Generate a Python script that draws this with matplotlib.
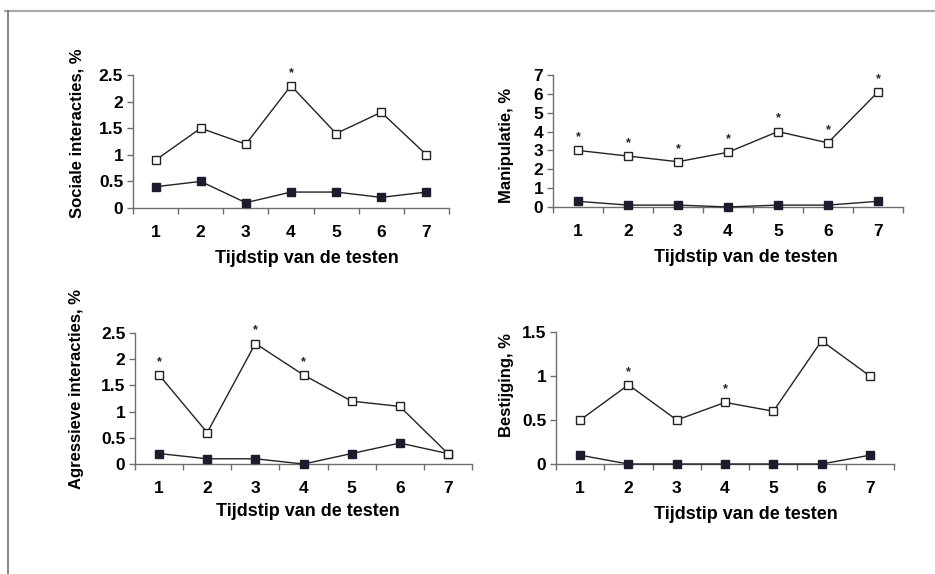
import matplotlib.pyplot as plt
from matplotlib.lines import Line2D

plt.rcParams['font.family'] = ['Liberation Sans', 'DejaVu Sans']
plt.rcParams['font.weight'] = 'bold'

# Tijdstip van de testen
tijdstip = [1, 2, 3, 4, 5, 6, 7]

# Sociale interacties
sociaal_open = [0.9, 1.5, 1.2, 2.3, 1.4, 1.8, 1.0]
sociaal_dicht = [0.4, 0.5, 0.1, 0.3, 0.3, 0.2, 0.3]
sociaal_ster = [4]

# Manipulatie
manip_open = [3.0, 2.7, 2.4, 2.9, 4.0, 3.4, 6.1]
manip_dicht = [0.3, 0.1, 0.1, 0.0, 0.1, 0.1, 0.3]
manip_ster = [1, 2, 3, 4, 5, 6, 7]

# Agressieve interacties
agressie_open = [1.7, 0.6, 2.3, 1.7, 1.2, 1.1, 0.2]
agressie_dicht = [0.2, 0.1, 0.1, 0.0, 0.2, 0.4, 0.2]
agressie_ster = [1, 3, 4]

# Bestijging
bestijging_open = [0.5, 0.9, 0.5, 0.7, 0.6, 1.4, 1.0]
bestijging_dicht = [0.1, 0.0, 0.0, 0.0, 0.0, 0.0, 0.1]
bestijging_ster = [2, 4]

panels = [
    # ylabel, open, dicht, sterren, yticks, ticklabels, axes rect, xlabel pos, ylabel pos
    ('Sociale interacties, %', sociaal_open, sociaal_dicht, sociaal_ster,
     [0, 0.5, 1, 1.5, 2, 2.5], ['0', '0.5', '1', '1.5', '2', '2.5'],
     [0.1422, 0.6376, 0.338, 0.2317], (0.55, -0.315), 133),
    ('Manipulatie, %', manip_open, manip_dicht, manip_ster,
     [0, 1, 2, 3, 4, 5, 6, 7], ['0', '1', '2', '3', '4', '5', '6', '7'],
     [0.5914, 0.6394, 0.3743, 0.2300], (0.551, -0.32), 145),
    ('Agressieve interacties, %', agressie_open, agressie_dicht, agressie_ster,
     [0, 0.5, 1, 1.5, 2, 2.5], ['0', '0.5', '1', '1.5', '2', '2.5'],
     [0.1444, 0.1916, 0.3604, 0.2282], (0.513, -0.30), 389),
    ('Bestijging, %', bestijging_open, bestijging_dicht, bestijging_ster,
     [0, 0.5, 1, 1.5], ['0', '0.5', '1', '1.5'],
     [0.5947, 0.1916, 0.3615, 0.2300], (0.562, -0.32), 385),
]

ylabel_x = [77, 507, 77, 507]

fig = plt.figure(figsize=(9.35, 5.74), dpi=100)

# rand van de afbeelding
fig.add_artist(Line2D([5 / 935, 1], [1 - 11 / 574, 1 - 11 / 574],
                      transform=fig.transFigure, color='#a8a8a8', lw=1.6))
fig.add_artist(Line2D([8 / 935, 8 / 935], [0, 1 - 11 / 574],
                      transform=fig.transFigure, color='#6e6e6e', lw=1.2))

for i, (ylab, v_open, v_dicht, sterren, yticks, ylabels, rect, xl_pos, yl_pix) in enumerate(panels):
    ax = fig.add_axes(rect)
    ax.plot(tijdstip, v_dicht, color='#222222', lw=1.0, marker='s',
            markersize=5.5, markerfacecolor='#1c1c2e', markeredgecolor='#1c1c2e',
            clip_on=False, zorder=3)
    ax.plot(tijdstip, v_open, color='#222222', lw=1.0, marker='s',
            markersize=6, markerfacecolor='white', markeredgecolor='#222222',
            clip_on=False, zorder=4)
    for s in sterren:
        ax.annotate('*', (s, v_open[s - 1]), xytext=(0, 5), textcoords='offset points',
                    ha='center', va='bottom', fontsize=9, color='#222222')

    ax.set_xlim(0.5, 7.5)
    ax.set_ylim(0, yticks[-1])
    ax.set_xticks([x + 0.5 for x in range(0, 8)])
    ax.set_xticklabels([])
    ax.set_xticks(tijdstip, minor=True)
    ax.set_xticklabels([str(t) for t in tijdstip], minor=True)
    ax.tick_params(axis='x', which='major', direction='out', length=4, width=1, color='#6e6e6e')
    ax.tick_params(axis='x', which='minor', length=0, pad=12, labelsize=12.5)
    ax.set_yticks(yticks)
    ax.set_yticklabels(ylabels)
    ax.tick_params(axis='y', direction='out', length=4, width=1, color='#6e6e6e',
                   labelsize=12.5, pad=3)

    for side in ['top', 'right']:
        ax.spines[side].set_visible(False)
    for side in ['left', 'bottom']:
        ax.spines[side].set_color('#6e6e6e')
        ax.spines[side].set_linewidth(1.0)

    ax.set_xlabel('Tijdstip van de testen', fontsize=13, fontweight='bold')
    ax.xaxis.set_label_coords(*xl_pos)

    fig.text(ylabel_x[i] / 935, 1 - yl_pix / 574, ylab, rotation=90, fontsize=12,
             fontweight='bold', ha='center', va='center')

fig.savefig('out.png', dpi=100)
